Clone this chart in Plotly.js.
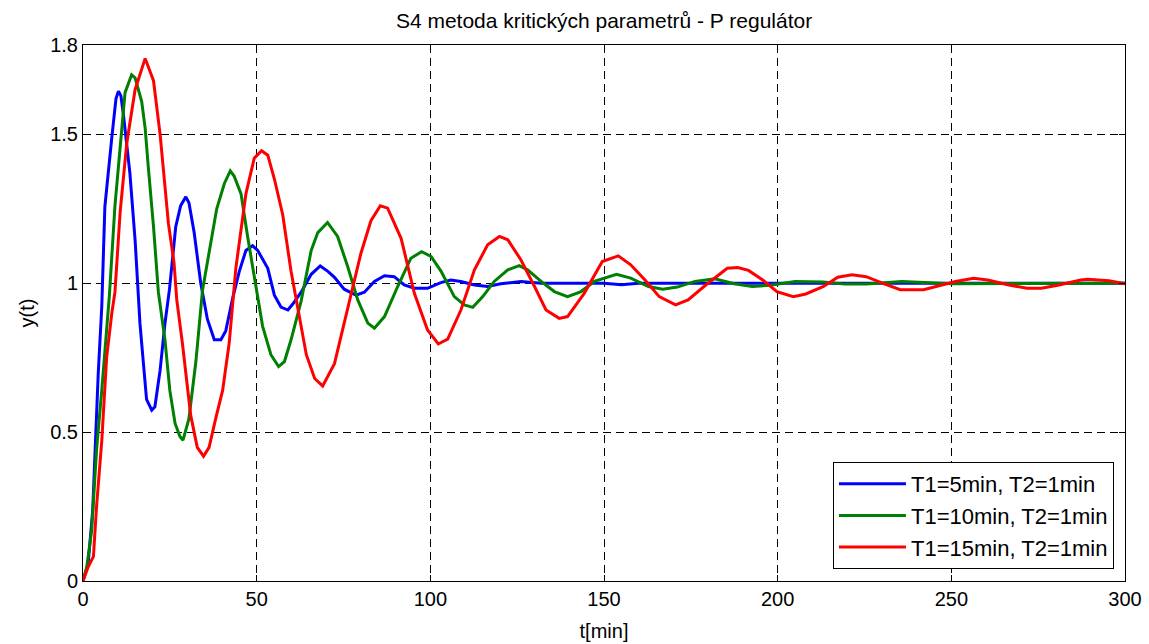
<!DOCTYPE html>
<html>
<head>
<meta charset="utf-8">
<script src="https://cdn.plot.ly/plotly-3.0.1.min.js"></script>
<style>html,body{margin:0;padding:0;background:#fff;}#chart{width:1149px;height:644px;}</style>
</head>
<body>
<div id="chart"></div>
<script>
// ---- data ----
const tBlue = [0,1.5,2.8,3.5,4.4,5.4,6.3,8.3,9.5,10.2,10.9,11.6,13.5,15,16.4,17.4,18.3,19.8,20.7,22.2,23.6,24.9,26.7,28.1,29.6,30.5,32,33.9,35.8,37.8,39.7,41.1,43.1,45,46.9,48.8,50.3,53.2,55.1,57,59,60.4,62.8,65.7,68.3,70.5,72.4,75.2,78.6,81,83.9,86.8,89.6,92.5,95.4,99.2,103,105.9,108.8,112.7,116.5,120.3,126.1,131.9,140,150,155,160,200,250,300];
const yBlue = [0,0.06,0.24,0.47,0.70,0.92,1.257,1.49,1.62,1.645,1.63,1.57,1.37,1.145,0.865,0.73,0.61,0.574,0.585,0.708,0.865,0.98,1.19,1.26,1.29,1.27,1.17,1.0,0.88,0.81,0.81,0.84,0.95,1.04,1.11,1.126,1.11,1.05,0.96,0.92,0.91,0.93,0.97,1.03,1.058,1.04,1.02,0.98,0.96,0.97,1.006,1.025,1.022,0.994,0.983,0.983,1.002,1.011,1.006,0.994,0.989,0.998,1.006,1.0,1.0,1.0,0.995,1.0,1.0,1.0,1.0];

const tGreen = [0,1.1,2.5,3.9,5.4,6.8,7.6,9.2,10.7,12.1,14,15,16.9,17.9,18.8,20.3,21.7,23.6,25,26.5,27.9,28.8,30.5,32.5,34.4,36.8,38.5,40.7,42.4,43.5,45.5,47.4,49.8,51.7,54.1,56.3,58,59.9,62.8,65.7,67.6,70.4,73.3,76.2,79.1,82,83.9,86.8,90.6,94.4,97.5,100.2,103.1,106.9,109.8,112.2,115.1,118.4,122.3,125.6,128,131.9,135.7,139.5,143.4,147.2,153.6,157.7,162.8,166.9,171.1,176.2,181.9,187.5,192.7,197.8,205,213.2,219.4,225.5,235.8,241.9,250.2,300];
const yGreen = [0,0.048,0.17,0.44,0.64,0.865,0.96,1.26,1.47,1.64,1.70,1.69,1.61,1.52,1.39,1.19,0.97,0.81,0.64,0.53,0.485,0.473,0.545,0.737,0.976,1.14,1.25,1.335,1.377,1.36,1.30,1.156,0.99,0.856,0.76,0.72,0.737,0.81,0.94,1.11,1.17,1.204,1.157,1.056,0.944,0.866,0.849,0.888,0.989,1.084,1.106,1.09,1.04,0.955,0.927,0.919,0.955,1.006,1.045,1.059,1.045,1.006,0.972,0.955,0.972,1.006,1.03,1.017,0.989,0.98,0.987,1.006,1.015,0.998,0.989,0.993,1.006,1.004,0.997,0.997,1.006,1.002,0.998,1.0];

const tRed = [0,1.5,3,3.9,5.4,6.8,8.3,9.2,10.7,12.6,15,17.9,20.3,22.2,24.6,26.2,27,28.6,31,32.9,34.7,36.3,38.2,40.2,42.1,44,46.9,49.3,51.4,53.2,55.1,57.5,59.9,62.3,64.3,66.7,69,72.4,76.2,80,82.9,85.6,87.7,91.6,95.4,99.2,102.3,105,108.8,112.7,116.5,119.9,122.3,126.1,130,133.3,137.1,139.5,144.3,149.5,154.1,157.7,161.8,165.9,170.6,174.2,179.3,185.5,188.5,191.6,195.7,199.8,204.5,208.1,213.2,217.3,221.4,225.5,230.7,235.3,242,246.1,251.2,256.4,260.5,266.6,271.8,275.9,281,287.2,289.3,295.4,300];
const yRed = [0,0.048,0.082,0.25,0.47,0.75,0.90,0.97,1.24,1.47,1.65,1.755,1.68,1.50,1.20,1.07,0.944,0.80,0.557,0.449,0.419,0.449,0.545,0.64,0.80,1.05,1.30,1.42,1.445,1.43,1.35,1.23,1.04,0.89,0.76,0.68,0.655,0.73,0.92,1.10,1.21,1.26,1.252,1.15,0.966,0.843,0.796,0.812,0.91,1.045,1.129,1.157,1.146,1.078,0.989,0.91,0.882,0.888,0.966,1.073,1.092,1.062,1.011,0.955,0.927,0.944,0.994,1.05,1.053,1.043,1.011,0.972,0.955,0.964,0.989,1.02,1.028,1.022,0.998,0.978,0.978,0.991,1.006,1.017,1.011,0.994,0.983,0.983,0.994,1.011,1.013,1.008,0.998];

const seriesNames = ['T1=5min, T2=1min','T1=10min, T2=1min','T1=15min, T2=1min'];
const seriesColors = ['#0000ff','#008000','#ff0000'];
const xTickVals = [0,50,100,150,200,250,300];
const yTickVals = [0,0.5,1,1.5,1.8];
const yTickText = ['0','0.5','1','1.5','1.8'];
const titleText = 'S4 metoda kritických parametrů - P regulátor';
const xTitle = 't[min]';
const yTitle = 'y(t)';

const xs = [tBlue,tGreen,tRed];
const ys = [yBlue,yGreen,yRed];
const traces = xs.map((x,i)=>({
  x:x, y:ys[i], type:'scatter', mode:'lines', name:seriesNames[i],
  line:{color:seriesColors[i], width:3}
}));

const FONT = 'Liberation Sans, Arial, sans-serif';
const layout = {
  width:1149, height:644,
  margin:{l:83, r:24, t:45, b:63},
  paper_bgcolor:'#ffffff', plot_bgcolor:'#ffffff',
  font:{family:FONT, size:19, color:'#000'},
  title:{text:titleText, x:0.5257, xanchor:'center', y:0.968, yanchor:'middle', font:{family:FONT, size:21, color:'#000'}},
  showlegend:true,
  legend:{x:0.9894, xanchor:'right', y:0.0224, yanchor:'bottom',
    bgcolor:'#ffffff', bordercolor:'#000', borderwidth:1,
    font:{family:FONT, size:22, color:'#000'}, itemwidth:67, tracegroupgap:0},
  xaxis:{range:[0,300], tickvals:xTickVals, ticks:'inside', ticklen:6, tickcolor:'#000',
    showline:true, linecolor:'#000', linewidth:1, mirror:'ticks',
    showgrid:true, gridcolor:'#000', gridwidth:1, griddash:'8px,5px',
    zeroline:false, tickfont:{family:FONT, size:20},
    title:{text:xTitle, font:{family:FONT, size:20}, standoff:14}},
  yaxis:{range:[0,1.8], tickvals:yTickVals, ticktext:yTickText, ticks:'inside', ticklen:6, tickcolor:'#000',
    showline:true, linecolor:'#000', linewidth:1, mirror:'ticks',
    showgrid:true, gridcolor:'#000', gridwidth:1, griddash:'8px,5px',
    zeroline:false, tickfont:{family:FONT, size:20},
    title:{text:yTitle, font:{family:FONT, size:20}, standoff:10}}
};
Plotly.newPlot('chart', traces, layout, {displayModeBar:false, staticPlot:true});
</script>
</body>
</html>
